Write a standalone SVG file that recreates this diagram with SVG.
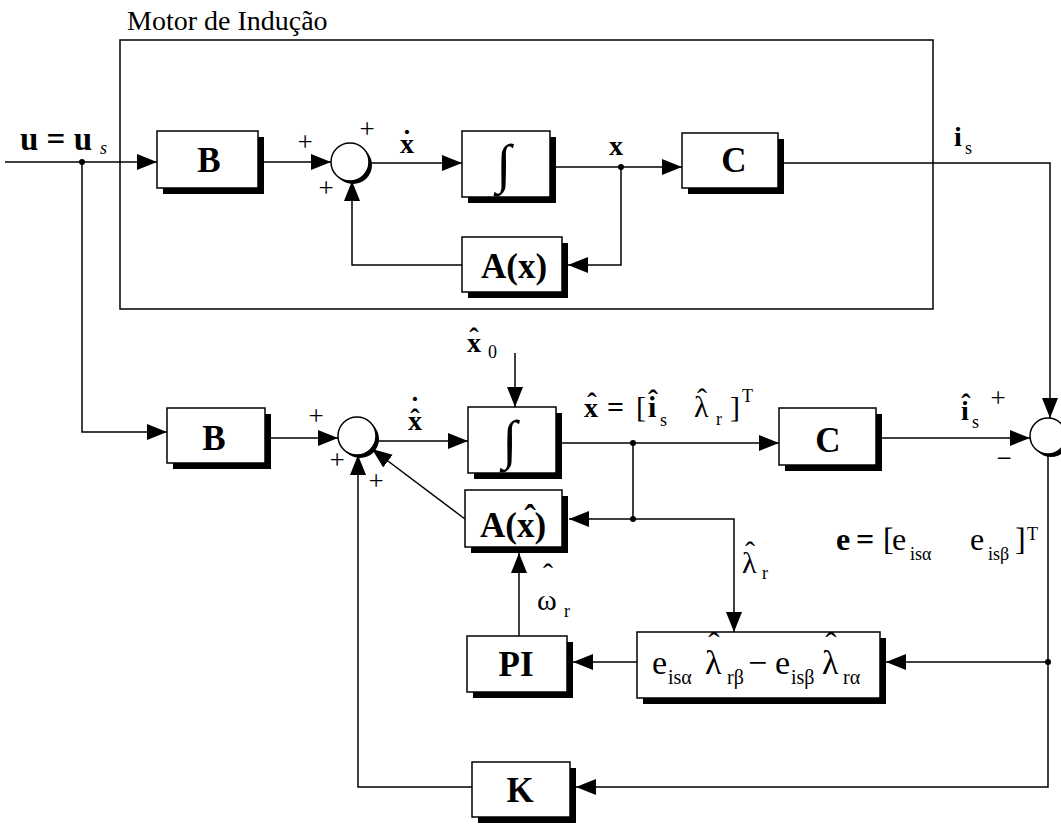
<svg xmlns="http://www.w3.org/2000/svg" width="1061" height="825" viewBox="0 0 1061 825">
<defs>
<style>
.box{fill:#fff;stroke:#000;stroke-width:1.5}
.sh{fill:#000}
.ln{fill:none;stroke:#000;stroke-width:1.5}
.ar{marker-end:url(#ah)}
.dot{fill:#000}
text{font-family:"Liberation Serif","Times New Roman",serif;fill:#000}
.b{font-weight:bold}
.bl{font-weight:bold;font-size:35px;text-anchor:middle}
.sg{font-weight:bold;font-size:28px}
.sub{font-size:18px}
.pm{font-size:27px;text-anchor:middle}
.hat{text-anchor:middle}
.int{font-size:54px;text-anchor:middle}
</style>
<marker id="ah" markerUnits="userSpaceOnUse" markerWidth="20" markerHeight="16" refX="20" refY="8" orient="auto">
<path d="M0,0 L20,8 L0,16 z" fill="#000"/>
</marker>
</defs>
<rect width="1061" height="825" fill="#fff"/>

<g id="motor">
<rect x="120" y="40" width="813" height="269" fill="none" stroke="#000" stroke-width="1.5"/>
<text x="127" y="30" font-size="28">Motor de Indução</text>
</g>

<g id="connectors">
<path class="ln ar" d="M5,162 H157"/>
<path class="ln ar" d="M264,162 H331"/>
<path class="ln ar" d="M369,163 H462"/>
<path class="ln ar" d="M556,167 H682"/>
<path class="ln ar" d="M784,163 H1050 V418"/>
<path class="ln ar" d="M621,167 V265 H568"/>
<path class="ln ar" d="M462,265 H352 V181"/>
<path class="ln ar" d="M82,162 V432 H167"/>
<path class="ln ar" d="M271,438 H338"/>
<path class="ln ar" d="M376,441 H468"/>
<path class="ln ar" d="M515,353 V407"/>
<path class="ln ar" d="M562,443 H779"/>
<path class="ln ar" d="M882,438 H1030"/>
<path class="ln ar" d="M633,443 V519 H569"/>
<path class="ln ar" d="M633,519 H734 V632"/>
<path class="ln ar" d="M465,519 L372,449"/>
<path class="ln ar" d="M519,636 V553"/>
<path class="ln ar" d="M1048,454 V787 H576"/>
<path class="ln ar" d="M1048,662 H886"/>
<path class="ln ar" d="M637,662 H573"/>
<path class="ln ar" d="M472,787 H358 V455"/>
<circle class="dot" cx="82" cy="162" r="3"/>
<circle class="dot" cx="621" cy="167" r="3"/>
<circle class="dot" cx="633" cy="443" r="3"/>
<circle class="dot" cx="633" cy="519" r="3"/>
<circle class="dot" cx="1048" cy="662" r="3"/>
</g>

<g id="label-u">
<text class="b" x="20" y="150" font-size="33">u = u</text>
<text x="100" y="154" font-size="18" font-style="italic">s</text>
</g>

<g id="B1">
<rect class="sh" x="163" y="137" width="101" height="57"/>
<rect class="box" x="157" y="131" width="101" height="57"/>
<text class="bl" x="209" y="172">B</text>
</g>

<g id="sum1">
<circle cx="353" cy="165" r="19" fill="#000"/>
<circle cx="350" cy="162" r="19" fill="#fff" stroke="#000" stroke-width="1.5"/>
<text class="pm" x="305" y="151">+</text>
<text class="pm" x="367" y="138">+</text>
<text class="pm" x="326" y="197">+</text>
</g>

<g id="label-xdot">
<text class="sg" x="400" y="153">x</text>
<text class="hat sg" x="407" y="149">˙</text>
</g>

<g id="int1">
<rect class="sh" x="468" y="137" width="88" height="66"/>
<rect class="box" x="462" y="131" width="88" height="66"/>
<text class="int" x="504" y="182">∫</text>
</g>

<g id="label-x">
<text class="sg" x="609" y="155">x</text>
</g>

<g id="C1">
<rect class="sh" x="688" y="139" width="96" height="55"/>
<rect class="box" x="682" y="133" width="96" height="55"/>
<text class="bl" x="734" y="172">C</text>
</g>

<g id="label-is">
<text class="sg" x="954" y="146">i</text>
<text class="sub" x="965" y="154">s</text>
</g>

<g id="Ax">
<rect class="sh" x="468" y="243" width="100" height="55"/>
<rect class="box" x="462" y="237" width="100" height="55"/>
<text class="bl" x="514" y="278">A(x)</text>
</g>

<g id="B2">
<rect class="sh" x="173" y="414" width="98" height="55"/>
<rect class="box" x="167" y="408" width="98" height="55"/>
<text class="bl" x="214" y="450">B</text>
</g>

<g id="sum2">
<circle cx="360" cy="439" r="19" fill="#000"/>
<circle cx="357" cy="436" r="19" fill="#fff" stroke="#000" stroke-width="1.5"/>
<text class="pm" x="316" y="425">+</text>
<text class="pm" x="337" y="469">+</text>
<text class="pm" x="376" y="490">+</text>
</g>

<g id="label-xhatdot">
<text class="sg" x="408" y="430">x</text>
<text class="hat sg" x="415" y="428">ˆ</text>
<text class="hat sg" x="415" y="416">˙</text>
</g>

<g id="label-x0">
<text class="sg" x="467" y="352">x</text>
<text class="hat sg" x="474" y="347">ˆ</text>
<text class="sub" x="488" y="358">0</text>
</g>

<g id="int2">
<rect class="sh" x="474" y="413" width="88" height="66"/>
<rect class="box" x="468" y="407" width="88" height="66"/>
<text class="int" x="510" y="458">∫</text>
</g>

<g id="label-xhat-eq">
<text class="sg" x="584" y="417" font-size="30">x</text>
<text class="hat sg" x="592" y="412" font-size="30">ˆ</text>
<text class="b" x="607" y="417" font-size="30">=</text>
<text x="636" y="417" font-size="30">[</text>
<text class="b" x="648" y="417" font-size="30">i</text>
<text class="hat b" x="653" y="410" font-size="30">ˆ</text>
<text class="sub" x="660" y="426">s</text>
<text x="694" y="417" font-size="30">λ</text>
<text class="hat" x="702" y="409" font-size="30">ˆ</text>
<text class="sub" x="716" y="425">r</text>
<text x="730" y="417" font-size="30">]</text>
<text class="sub" x="742" y="402">T</text>
</g>

<g id="C2">
<rect class="sh" x="785" y="414" width="97" height="57"/>
<rect class="box" x="779" y="408" width="97" height="57"/>
<text class="bl" x="828" y="452">C</text>
</g>

<g id="sum3">
<circle cx="1051" cy="439" r="18" fill="#000"/>
<circle cx="1048" cy="436" r="18" fill="#fff" stroke="#000" stroke-width="1.5"/>
<text class="pm" x="998" y="407">+</text>
<text class="pm" x="1004" y="467">−</text>
</g>

<g id="label-ishat">
<text class="sg" x="961" y="420">i</text>
<text class="hat b" x="966" y="413" font-size="28">ˆ</text>
<text class="sub" x="972" y="428">s</text>
</g>

<g id="label-e">
<text class="b" x="836" y="550" font-size="32">e</text>
<text class="b" x="856" y="550" font-size="32">=</text>
<text x="883" y="550" font-size="32">[</text>
<text x="892" y="550" font-size="32">e</text>
<text class="sub" x="910" y="560">isα</text>
<text x="970" y="550" font-size="32">e</text>
<text class="sub" x="988" y="560">isβ</text>
<text x="1015" y="550" font-size="32">]</text>
<text class="sub" x="1027" y="540">T</text>
</g>

<g id="Axhat">
<rect class="sh" x="471" y="496" width="97" height="57"/>
<rect class="box" x="465" y="490" width="97" height="57"/>
<text class="bl" x="513" y="537">A(x)</text>
<text class="hat b" x="530" y="530" font-size="35">ˆ</text>
</g>

<g id="label-lambda">
<text x="742" y="573" font-size="30">λ</text>
<text class="hat" x="750" y="562" font-size="30">ˆ</text>
<text class="sub" x="762" y="579">r</text>
</g>

<g id="label-omega">
<text x="537" y="610" font-size="30">ω</text>
<text class="hat" x="548" y="584" font-size="30">ˆ</text>
<text class="sub" x="564" y="617">r</text>
</g>

<g id="PI">
<rect class="sh" x="473" y="642" width="100" height="56"/>
<rect class="box" x="467" y="636" width="100" height="56"/>
<text class="bl" x="516" y="676">PI</text>
</g>

<g id="eblock">
<rect class="sh" x="643" y="638" width="243" height="66"/>
<rect class="box" x="637" y="632" width="243" height="66"/>
<text x="652" y="674" font-size="34">e</text>
<text x="668" y="684" font-size="20">isα</text>
<text x="705" y="674" font-size="34">λ</text>
<text class="hat" x="714" y="656" font-size="34">ˆ</text>
<text x="727" y="684" font-size="20">rβ</text>
<text x="748" y="674" font-size="34">−</text>
<text x="775" y="674" font-size="34">e</text>
<text x="791" y="684" font-size="20">isβ</text>
<text x="822" y="674" font-size="34">λ</text>
<text class="hat" x="831" y="656" font-size="34">ˆ</text>
<text x="843" y="684" font-size="20">rα</text>
</g>

<g id="K">
<rect class="sh" x="478" y="768" width="98" height="55"/>
<rect class="box" x="472" y="762" width="98" height="55"/>
<text class="bl" x="520" y="802">K</text>
</g>
</svg>
